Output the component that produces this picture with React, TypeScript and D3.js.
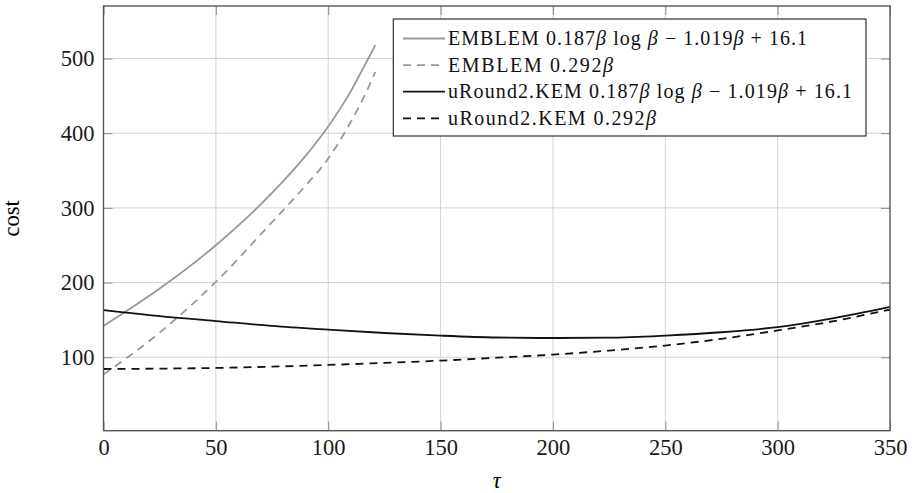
import React, { useEffect, useRef } from 'react'
import { select, scaleLinear, line, curveMonotoneX, axisBottom, axisLeft, axisTop, axisRight } from 'd3'

// values
const xTicks = [0, 50, 100, 150, 200, 250, 300, 350]
const yTicks = [100, 200, 300, 400, 500]

const emblemTau = [0, 25, 50, 75, 90, 100, 110, 115, 121]
const emblemLog = [142, 192, 250, 320, 370, 409, 456, 484, 518]
const emblemLin = [77, 133, 201, 281, 330, 366, 415, 443, 482]

const uRoundTau = [0, 25, 50, 75, 100, 125, 150, 175, 200, 225, 250, 275, 300, 325, 350]
const uRoundLog = [163, 155, 148.5, 142, 137, 132.5, 129, 126.5, 125.8, 126.2, 129, 133.5, 140.5, 152.5, 167.5]
const uRoundLin = [84.3, 84.8, 85.7, 87.5, 89.7, 92.5, 95.5, 99.5, 103.6, 109, 115.7, 124.7, 135.9, 148.4, 164]

const legendNames = ['EMBLEM', 'EMBLEM', 'uRound2.KEM', 'uRound2.KEM']
const legendKinds = ['log', 'lin', 'log', 'lin']
const legendWidths = [359, 165, 404, 208]

const FONT = '"Liberation Serif", "Times New Roman", serif'

const App = () => {
  const svgRef = useRef<SVGSVGElement>(null)

  useEffect(() => {
    const svg = select(svgRef.current)
    svg.selectAll('*').remove()

    const left = 103.5, right = 890, top = 6, bottom = 430.7

    const x = scaleLinear().domain([0, 350]).range([left, right])
    const y = scaleLinear().domain([1.7, 570.3]).range([bottom, top])

    // grid
    const grid = svg.append('g')
    grid.selectAll('.vg')
      .data(xTicks.slice(1, -1))
      .join('line')
      .attr('x1', d => x(d)).attr('x2', d => x(d))
      .attr('y1', top).attr('y2', bottom)
      .attr('stroke', '#d4d4d4').attr('stroke-width', 1)
    grid.selectAll('.hg')
      .data(yTicks)
      .join('line')
      .attr('x1', left).attr('x2', right)
      .attr('y1', d => y(d)).attr('y2', d => y(d))
      .attr('stroke', '#d4d4d4').attr('stroke-width', 1)

    // ticks + labels
    const styleAxis = (g: any) => {
      g.select('.domain').remove()
      g.selectAll('.tick line').attr('stroke', '#8c8c8c').attr('stroke-width', 1)
      g.selectAll('.tick text')
        .attr('fill', '#1a1a1a')
        .style('font-family', FONT)
        .style('font-size', '22.5px')
    }

    svg.append('g')
      .attr('transform', `translate(0,${bottom})`)
      .call(axisBottom(x).tickValues(xTicks).tickSize(-9).tickPadding(8))
      .call(styleAxis)
    svg.append('g')
      .attr('transform', `translate(0,${top})`)
      .call(axisTop(x).tickValues(xTicks).tickSize(-9).tickFormat(() => ''))
      .call(styleAxis)
    svg.append('g')
      .attr('transform', `translate(${left},0)`)
      .call(axisLeft(y).tickValues(yTicks).tickSize(-9).tickPadding(9))
      .call(styleAxis)
    svg.append('g')
      .attr('transform', `translate(${right},0)`)
      .call(axisRight(y).tickValues(yTicks).tickSize(-9).tickFormat(() => ''))
      .call(styleAxis)

    // curves
    const series = [
      { t: emblemTau, v: emblemLog, color: '#999999', dash: null },
      { t: emblemTau, v: emblemLin, color: '#999999', dash: '8,6' },
      { t: uRoundTau, v: uRoundLog, color: '#111111', dash: null },
      { t: uRoundTau, v: uRoundLin, color: '#111111', dash: '8,6' },
    ]

    const curve = line<[number, number]>()
      .x(d => x(d[0]))
      .y(d => y(d[1]))
      .curve(curveMonotoneX)

    series.forEach(s => {
      const pts = s.t.map((t, i) => [t, s.v[i]] as [number, number])
      svg.append('path')
        .datum(pts)
        .attr('d', curve)
        .attr('fill', 'none')
        .attr('stroke', s.color)
        .attr('stroke-width', 1.8)
        .attr('stroke-dasharray', s.dash)
    })

    // frame
    svg.append('rect')
      .attr('x', left).attr('y', top)
      .attr('width', right - left).attr('height', bottom - top)
      .attr('fill', 'none')
      .attr('stroke', '#555555')
      .attr('stroke-width', 1.4)

    // axis labels
    svg.append('text')
      .attr('x', (left + right) / 2).attr('y', 488)
      .attr('text-anchor', 'middle')
      .style('font-family', FONT).style('font-size', '22.5px').style('font-style', 'italic')
      .text('τ')
    svg.append('text')
      .attr('transform', `translate(19,${(top + bottom) / 2}) rotate(-90)`)
      .attr('text-anchor', 'middle')
      .style('font-family', FONT).style('font-size', '22.5px')
      .text('cost')

    // legend
    const lg = svg.append('g')
    lg.append('rect')
      .attr('x', 393.3).attr('y', 19)
      .attr('width', 866 - 393.3).attr('height', 136 - 19)
      .attr('fill', 'white')
      .attr('stroke', '#333333')
      .attr('stroke-width', 1.2)

    legendNames.forEach((name, i) => {
      const cy = 38.5 + i * 26.6
      const s = series[i]
      lg.append('line')
        .attr('x1', 403).attr('x2', 445)
        .attr('y1', cy).attr('y2', cy)
        .attr('stroke', s.color)
        .attr('stroke-width', 1.8)
        .attr('stroke-dasharray', s.dash)
      const t = lg.append('text')
        .attr('x', 448).attr('y', cy + 6.5)
        .attr('textLength', legendWidths[i])
        .attr('lengthAdjust', 'spacing')
        .style('font-family', FONT).style('font-size', '20px')
        .attr('fill', '#111')
      if (legendKinds[i] === 'log') {
        t.append('tspan').text(name + ' 0.187')
        t.append('tspan').style('font-style', 'italic').text('β')
        t.append('tspan').text(' log ')
        t.append('tspan').style('font-style', 'italic').text('β')
        t.append('tspan').text(' − 1.019')
        t.append('tspan').style('font-style', 'italic').text('β')
        t.append('tspan').text(' + 16.1')
      } else {
        t.append('tspan').text(name + ' 0.292')
        t.append('tspan').style('font-style', 'italic').text('β')
      }
    })
  }, [])

  return (
    <svg ref={svgRef} width={912} height={493}
      style={{ position: 'absolute', left: 0, top: 0, background: 'white' }} />
  )
}

export default App
